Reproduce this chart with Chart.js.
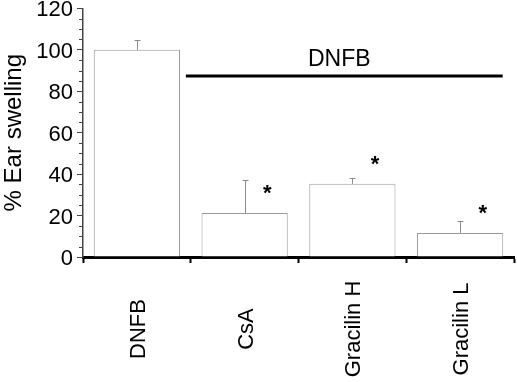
<!DOCTYPE html>
<html>
<head>
<meta charset="utf-8">
<script src="https://cdn.jsdelivr.net/npm/chart.js@4.4.1/dist/chart.umd.min.js"></script>
<style>
  html, body { margin: 0; padding: 0; background: #ffffff; }
  #wrap { width: 517px; height: 382px; position: relative; }
</style>
</head>
<body>
<div id="wrap"><canvas id="c" width="517" height="382"></canvas></div>
<script>
// ---- data ----
const categories = ['DNFB', 'CsA', 'Gracilin H', 'Gracilin L'];
const values = [100, 21.2, 35.3, 11.6];
const errors = [4.6, 15.8, 2.7, 5.7];
const starLevels = [null, 33, 47, 23];
const yMin = 0;
const yMax = 120;
const yMajorStep = 20;
const yMinorStep = 5;
const yTitle = '% Ear swelling';
const bracketLabel = 'DNFB';
const bracketLevel = 87.4;
const bracketFrom = 0.455;
const bracketTo = 3.395;

const FONT = "'Liberation Sans', Arial, sans-serif";

const annotations = {
  id: 'annotations',
  afterDatasetsDraw(chart) {
    const ctx = chart.ctx;
    const xs = chart.scales.x, ys = chart.scales.y;
    const meta = chart.getDatasetMeta(0);
    ctx.save();
    // error bars
    ctx.strokeStyle = '#8a8a8a';
    ctx.lineWidth = 1;
    meta.data.forEach((bar, i) => {
      const x = Math.round(bar.x) + 0.5;
      const y0 = ys.getPixelForValue(values[i]);
      const y1 = ys.getPixelForValue(values[i] + errors[i]);
      ctx.beginPath();
      ctx.moveTo(x, y0);
      ctx.lineTo(x, y1);
      ctx.moveTo(x - 3, Math.round(y1) + 0.5);
      ctx.lineTo(x + 3, Math.round(y1) + 0.5);
      ctx.stroke();
    });
    // significance stars
    ctx.fillStyle = '#000';
    ctx.font = 'bold 22px ' + FONT;
    ctx.textAlign = 'center';
    ctx.textBaseline = 'middle';
    starLevels.forEach((lvl, i) => {
      if (lvl === null) return;
      const x = xs.getPixelForValue(i + 0.21);
      const y = ys.getPixelForValue(lvl);
      ctx.fillText('*', x, y + 5);
    });
    // treatment bracket
    const bx0 = xs.getPixelForValue(bracketFrom);
    const bx1 = xs.getPixelForValue(bracketTo);
    const by = ys.getPixelForValue(bracketLevel);
    ctx.strokeStyle = '#000';
    ctx.lineWidth = 3;
    ctx.beginPath();
    ctx.moveTo(bx0, by);
    ctx.lineTo(bx1, by);
    ctx.stroke();
    ctx.font = '23px ' + FONT;
    ctx.textBaseline = 'alphabetic';
    ctx.fillText(bracketLabel, (bx0 + bx1) / 2 - 5, by - 10);
    ctx.restore();
  },
  afterDraw(chart) {
    const ctx = chart.ctx;
    const xs = chart.scales.x, ys = chart.scales.y;
    ctx.save();
    // minor ticks on the y axis
    const axisX = ys.right;
    ctx.strokeStyle = '#444';
    ctx.lineWidth = 1;
    for (let v = yMin; v <= yMax; v += yMinorStep) {
      if (v % yMajorStep === 0) continue;
      const y = Math.round(ys.getPixelForValue(v)) + 0.5;
      ctx.beginPath();
      ctx.moveTo(axisX - 4, y);
      ctx.lineTo(axisX, y);
      ctx.stroke();
    }
    // category labels, rotated and centred in the band below the axis
    ctx.fillStyle = '#000';
    ctx.font = '22px ' + FONT;
    ctx.textAlign = 'center';
    ctx.textBaseline = 'middle';
    const cy = chart.chartArea.bottom + 72;
    categories.forEach((label, i) => {
      const x = xs.getPixelForValue(i) + 2;
      ctx.save();
      ctx.translate(x, cy);
      ctx.rotate(-Math.PI / 2);
      ctx.fillText(label, 0, 0);
      ctx.restore();
    });
    ctx.restore();
  }
};

new Chart(document.getElementById('c'), {
  type: 'bar',
  data: {
    labels: categories,
    datasets: [{
      data: values,
      backgroundColor: '#ffffff',
      borderColor: '#9a9a9a',
      borderWidth: { top: 1, left: 1, right: 1, bottom: 0 },
      borderSkipped: false,
      barPercentage: 0.8,
      categoryPercentage: 1.0
    }]
  },
  options: {
    responsive: false,
    animation: false,
    devicePixelRatio: 1,
    layout: { padding: { left: 0, right: 3, top: 0, bottom: 119 } },
    plugins: { legend: { display: false }, tooltip: { enabled: false } },
    scales: {
      x: {
        offset: true,
        grid: { display: true, offset: true, drawOnChartArea: false, tickLength: 6, tickWidth: 2, tickColor: '#000' },
        border: { display: true, width: 3, color: '#000' },
        ticks: { display: false }
      },
      y: {
        min: yMin, max: yMax,
        grid: { display: true, drawOnChartArea: false, tickLength: 6, tickColor: '#444', tickWidth: 1 },
        border: { display: true, width: 1.5, color: '#444' },
        ticks: { stepSize: yMajorStep, padding: 4, labelOffset: 2, color: '#000', font: { family: FONT, size: 22, lineHeight: 0.4 } },
        title: { display: true, text: yTitle, color: '#000', font: { family: FONT, size: 24 }, padding: { top: 0, bottom: 3.5 } }
      }
    }
  },
  plugins: [annotations]
});
</script>
</body>
</html>
